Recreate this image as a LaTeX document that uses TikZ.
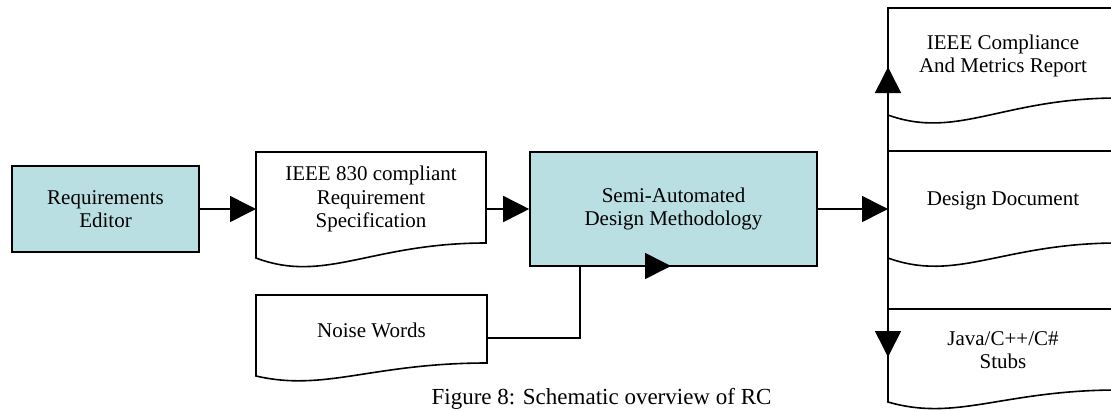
\documentclass[tikz,border=0pt]{standalone}
\usepackage{fontspec}
\setmainfont{Liberation Serif}
\usetikzlibrary{arrows.meta,calc}
\definecolor{procfill}{RGB}{186,223,227}
\newcommand{\docoutline}[4]{%
  % #1 node name, #2 width, #3 rise of right end, #4 dip control
  \draw[docline] (#1.south west) -- (#1.north west) -- (#1.north east)
    -- ($(#1.south east)+(0,-#3)$)
    .. controls ($(#1.south west)+(0.5*#2,-#3)$) and ($(#1.south west)+(0.3*#2,#4)$) .. (#1.south west) -- cycle;}
\begin{document}
\begin{tikzpicture}[x=1pt,y=-1pt,
  txt/.style={font=\fontsize{21}{23.5}\selectfont, align=center, inner sep=0pt},
  procbox/.style={draw=black, line width=1.6pt, fill=procfill, txt},
  docbody/.style={inner sep=0pt, outer sep=0pt, minimum width=230pt},
  docline/.style={draw=black, line width=1.6pt, fill=white},
  conn/.style={draw=black, line width=1.6pt},
  arr/.style={conn, -{Triangle[length=26pt,width=26pt]}}]
\useasboundingbox (0,0) rectangle (1111,410);
\clip (0,0) rectangle (1111,410);
% process boxes
\node[procbox, minimum width=187pt, minimum height=86pt] (re) at (105.5,209) {Requirements\\Editor};
\node[procbox, minimum width=287pt, minimum height=114pt] (semi) at (673.5,209) {Semi-Automated\\Design Methodology};
% document bodies
\node[docbody, minimum height=106pt] (ieee) at (371,205) {};
\docoutline{ieee}{230}{15}{26}
\node[txt] (ieeet) at (371,199) {IEEE 830 compliant\\Requirement\\Specification};
\node[docbody, minimum width=231pt, minimum height=81pt] (noise) at (371.5,335.5) {};
\docoutline{noise}{231}{13}{16}
\node[txt] (noiset) at (371.5,330) {Noise Words};
\node[docbody, minimum height=107pt] (rep) at (1003,61.5) {};
\docoutline{rep}{230}{17}{25}
\node[txt] (rept) at (1003,56) {IEEE Compliance\\And Metrics Report};
\node[docbody, minimum height=107pt] (des) at (1003,204.5) {};
\docoutline{des}{230}{15}{25}
\node[txt] (dest) at (1003,201) {Design Document};
\node[docbody, minimum height=93pt] (stub) at (1003,355.5) {};
\docoutline{stub}{230}{12}{20}
\node[txt] (stubt) at (1003,350) {Java/C++/C\#\\Stubs};
% connector points
\coordinate (split) at (des.west |- semi.east);
\coordinate (upend) at (888,67);
\coordinate (downend) at (888,357);
\coordinate (nright) at (noise.east |- 0,338);
\coordinate (nturn) at (580,338);
\coordinate (nup) at (580,266);
\coordinate (ntip) at (671,266);
% connectors
\draw[arr] (re.east) -- (re.east -| ieee.west);
\draw[arr] (semi.west -| ieee.east) -- (semi.west);
\draw[arr] (semi.east) -- (split);
\draw[arr] (split) -- (upend);
\draw[arr] (split) -- (downend);
\draw[conn] (nright) -- (nturn) -- (nup);
\draw[arr] (nup) -- (ntip);
% caption
\node[anchor=base, inner sep=0pt, font=\fontsize{23}{27}\selectfont] (cap) at (601.5,404) {Figure 8: Schematic overview of RC};
\end{tikzpicture}
\end{document}
